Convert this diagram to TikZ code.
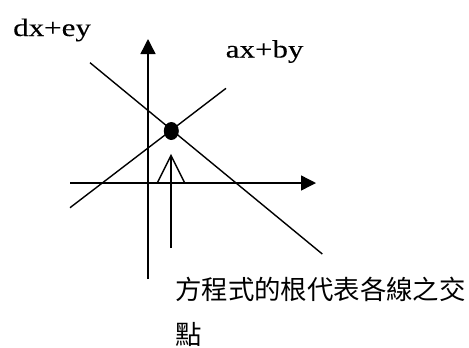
\documentclass[tikz,border=0pt]{standalone}
\usepackage{fontspec}
\setmainfont{Liberation Serif}
\newfontfamily\latlbl[FakeBold=0.12]{Liberation Serif}
\newfontfamily\cjk{Noto Sans CJK TC}
\usetikzlibrary{arrows.meta}
\begin{document}
\begin{tikzpicture}[x=1bp,y=-1bp,
  ln/.style={line width=1.4bp},
  axis/.style={ln,-{Triangle[length=15bp,width=15bp]}},
  lbl/.style={inner sep=0pt,anchor=base west,font=\fontsize{25bp}{29bp}\selectfont\latlbl},
  cjklbl/.style={inner sep=0pt,anchor=west,font=\fontsize{26.4bp}{30bp}\selectfont\cjk}]
\useasboundingbox (0,0) rectangle (469,347);
% axes
\coordinate (yb) at (148,279);
\coordinate (yt) at (148,39);
\coordinate (xl) at (70,183);
\coordinate (xr) at (316,183);
\draw[axis] (yb) -- (yt);
\draw[axis] (xl) -- (xr);
% lines
\coordinate (d1) at (90,62.7);
\coordinate (d2) at (322.3,254);
\coordinate (a1) at (70,207.7);
\coordinate (a2) at (226,88.3);
\draw[ln] (d1) -- (d2);
\draw[ln] (a1) -- (a2);
% intersection dot
\fill (171.3,131) ellipse [x radius=7.5, y radius=9];
% pointer arrow
\coordinate (pb) at (171,248);
\coordinate (pt) at (171,155.5);
\coordinate (pl) at (157.5,182.5);
\coordinate (pr) at (184.5,182.5);
\draw[ln] (pb) -- (pt);
\draw[ln] (pl) -- (pt) -- (pr);
% labels
\node[lbl] (de) at (13,36) {\scalebox{1.24}[1]{dx+ey}};
\node[lbl] (ab) at (225.5,57.5) {\scalebox{1.24}[1]{ax+by}};
\node[cjklbl] (t1) at (175,289) {方程式的根代表各線之交};
\node[cjklbl] (t2) at (175,334.5) {點};
\end{tikzpicture}
\end{document}
